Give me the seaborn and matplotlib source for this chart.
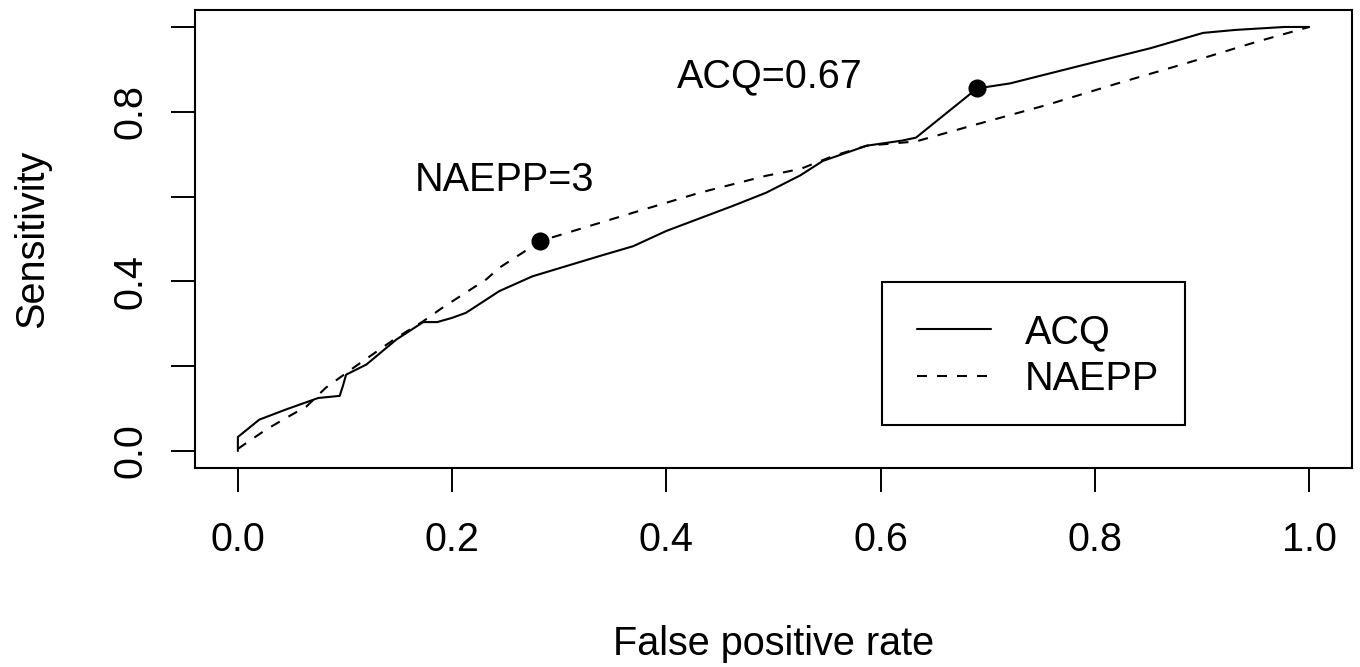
import numpy as np
import seaborn as sns
import matplotlib.pyplot as plt
import pandas as pd
from matplotlib.patches import Rectangle

# ROC curves (false positive rate, sensitivity)
acq_fpr = [0.0, 0.0, 0.020, 0.045, 0.075, 0.095, 0.098, 0.101, 0.120, 0.148,
           0.173, 0.186, 0.200, 0.213, 0.244, 0.275, 0.338, 0.369, 0.400,
           0.462, 0.493, 0.525, 0.546, 0.587, 0.620, 0.633, 0.690, 0.721,
           0.787, 0.852, 0.901, 0.931, 0.977, 1.0]
acq_sens = [0.0, 0.033, 0.074, 0.098, 0.125, 0.130, 0.153, 0.180, 0.204, 0.263,
            0.304, 0.304, 0.314, 0.326, 0.377, 0.412, 0.460, 0.483, 0.519,
            0.578, 0.609, 0.650, 0.684, 0.720, 0.732, 0.739, 0.855, 0.867,
            0.909, 0.950, 0.986, 0.993, 1.0, 1.0]

naepp_fpr = [0.0, 0.008, 0.026, 0.045, 0.064, 0.082, 0.110, 0.148, 0.173,
             0.191, 0.210, 0.232, 0.244, 0.266, 0.282, 0.369, 0.431, 0.493,
             0.525, 0.556, 0.587, 0.633, 0.689, 0.755, 0.820, 0.886, 0.951, 1.0]
naepp_sens = [0.005, 0.019, 0.050, 0.078, 0.105, 0.149, 0.200, 0.267, 0.306,
              0.338, 0.369, 0.405, 0.432, 0.468, 0.495, 0.562, 0.609, 0.649,
              0.665, 0.696, 0.720, 0.730, 0.770, 0.816, 0.866, 0.915, 0.965, 1.0]

# chosen cut-offs
cut_labels = ["NAEPP=3", "ACQ=0.67"]
cut_fpr = [0.282, 0.690]
cut_sens = [0.495, 0.855]

sns.set_theme(style="white")
plt.rcParams['font.family'] = ['Liberation Sans', 'DejaVu Sans']
plt.rcParams['text.color'] = 'black'
fs = 28.5

fig = plt.figure(figsize=(13.6, 6.67), dpi=100)
ax = fig.add_axes([0.1434, 0.2984, 0.8507, 0.6866])

acq = pd.DataFrame({"fpr": acq_fpr, "sens": acq_sens})
naepp = pd.DataFrame({"fpr": naepp_fpr, "sens": naepp_sens})
sns.lineplot(x="fpr", y="sens", data=acq, sort=False, estimator=None,
             color="black", linewidth=1.5, label="ACQ", ax=ax)
sns.lineplot(x="fpr", y="sens", data=naepp, sort=False, estimator=None,
             color="black", linewidth=1.5, linestyle=(0, (4.8, 4.8)),
             label="NAEPP", ax=ax)
sns.scatterplot(x=cut_fpr, y=cut_sens, color="black", s=170, linewidth=0,
                ax=ax, zorder=5)

ax.text(0.249, 0.6126, cut_labels[0], ha="center", va="baseline",
        fontsize=fs, color="black")
ax.text(0.4965, 0.858, cut_labels[1], ha="center", va="baseline",
        fontsize=fs, color="black")

ax.set_xlim(-0.04, 1.04)
ax.set_ylim(-0.04, 1.04)
ax.set_xticks(np.arange(0, 1.01, 0.2))
ax.set_xticklabels(["0.0", "0.2", "0.4", "0.6", "0.8", "1.0"], fontsize=fs)
ax.set_yticks(np.arange(0, 1.01, 0.2))
ax.set_yticklabels(["0.0", "", "0.4", "", "0.8", ""], fontsize=fs,
                   rotation=90, va="center")
ax.tick_params(axis="both", direction="out", length=17, width=1.4,
               color="black", labelcolor="black", left=True, bottom=True)
ax.tick_params(axis="x", pad=21)
ax.tick_params(axis="y", pad=16)

for sp in ax.spines.values():
    sp.set_visible(True)
    sp.set_color("black")
    sp.set_linewidth(1.5)

ax.set_xlabel("False positive rate", fontsize=fs, color="black")
ax.set_ylabel("Sensitivity", fontsize=fs, color="black")
ax.xaxis.set_label_coords(0.5, -0.343)
ax.yaxis.set_label_coords(-0.124, 0.5)

# legend box drawn separately so the entries can sit where R puts them
ax.add_patch(Rectangle((0.594, 0.094), 0.262, 0.312, transform=ax.transAxes,
                       fill=False, edgecolor="black", linewidth=1.5, zorder=6))
ax.legend(loc="upper left", bbox_to_anchor=(0.624, 0.3384), frameon=False,
          fontsize=fs, handlelength=1.87, handletextpad=0.85,
          labelspacing=0.23, borderpad=0, borderaxespad=0)

fig.savefig("out.png", dpi=100)
